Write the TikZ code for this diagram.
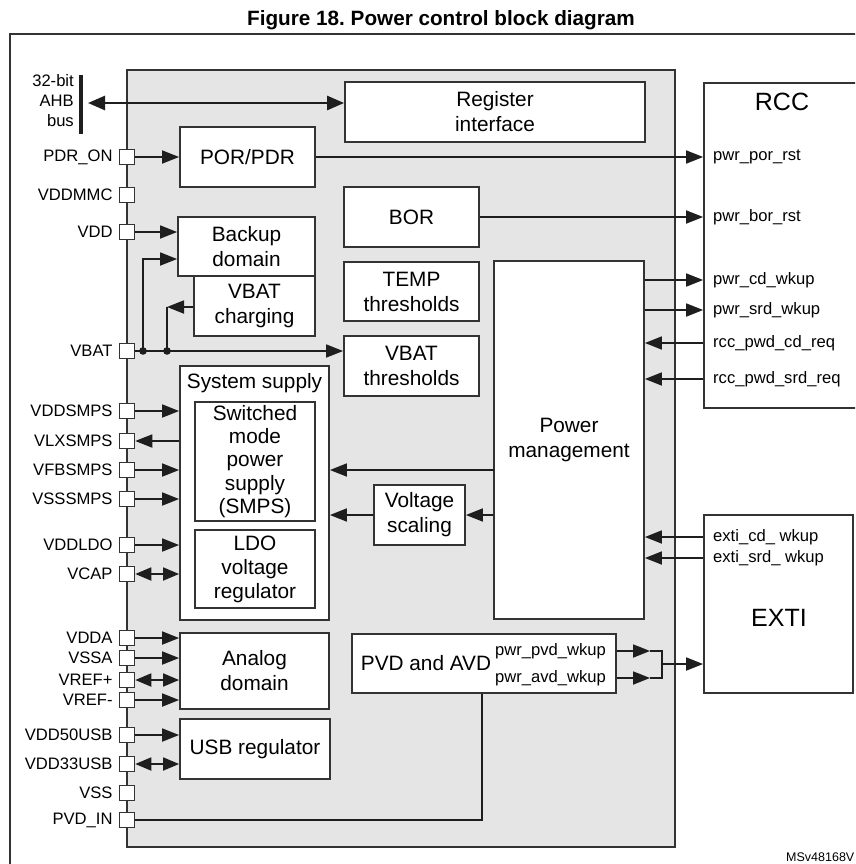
\documentclass[tikz,border=0pt]{standalone}
\usepackage{fontspec}
\setmainfont{Liberation Sans}
\usetikzlibrary{arrows.meta}
\definecolor{boxc}{HTML}{333333}
\definecolor{linec}{HTML}{1E1E1E}
\definecolor{greyc}{HTML}{E5E5E5}
\newcommand\fmain{\fontsize{20.8}{25}\selectfont}
\newcommand\fsmps{\fontsize{20.8}{23.2}\selectfont}
\newcommand\fsmall{\fontsize{16.6}{20}\selectfont}
\newcommand\fbig{\fontsize{25}{30}\selectfont}
\frenchspacing
\begin{document}
\begin{tikzpicture}[x=1pt,y=-1pt,
  label distance=6pt,
  box/.style={draw=boxc, line width=1.8pt, fill=white, inner sep=0pt, align=center, font=\fmain},
  pinbox/.style={draw=boxc, line width=1.5pt, fill=white, minimum size=15pt, inner sep=0pt},
  lab/.style={font=\fsmall, inner sep=0pt},
  conn/.style={draw=linec, line width=1.8pt},
  arr/.style={conn, -{Triangle[length=17pt,width=13pt]}},
  arrb/.style={conn, {Triangle[length=16pt,width=13pt]}-{Triangle[length=16pt,width=13pt]}},
]
\useasboundingbox (0,0) rectangle (855,864);
\clip (0,0) rectangle (855,864);
\fill[white] (0,0) rectangle (855,864);

% title and frame
\node[font=\fontsize{20.7}{24}\selectfont\bfseries, anchor=base, inner sep=0pt] (title) at (441,26) {Figure 18. Power control block diagram};
\draw[boxc, line width=1.5pt] (10,880) -- (10,34) -- (880,34);

% main grey block
\node[draw=boxc, line width=1.8pt, fill=greyc, minimum width=548pt, minimum height=777pt, inner sep=0pt] (core) at (401,458.5) {};

% boxes
\node[box, minimum width=300pt, minimum height=60pt] (reg) at (495,112) {Register\\interface};
\node[box, minimum width=135pt, minimum height=60pt] (por) at (247.5,157) {POR/PDR};
\node[box, minimum width=135pt, minimum height=60pt] (bor) at (411.5,217) {BOR};
\node[box, minimum width=121pt, minimum height=60pt] (charging) at (254.5,306) {VBAT\\charging};
\node[box, minimum width=137pt, minimum height=59pt] (backup) at (246.5,246.5) {Backup\\domain};
\node[box, minimum width=135pt, minimum height=59pt] (temp) at (411.5,291.5) {TEMP\\thresholds};
\node[box, minimum width=135pt, minimum height=60pt] (vbatth) at (411.5,366) {VBAT\\thresholds};
\node[box, minimum width=150pt, minimum height=358pt] (pm) at (569,440) {Power\\management};
\node[box, minimum width=149pt, minimum height=254pt] (sys) at (254.5,493) {};
\node[font=\fmain, inner sep=0pt] (syslab) at (254.5,383) {System supply};
\node[box, font=\fsmps, minimum width=120pt, minimum height=119pt] (smps) at (255,461.5) {Switched\\mode\\power\\supply\\(SMPS)};
\node[box, font=\fontsize{20.8}{24}\selectfont, minimum width=120pt, minimum height=78pt] (ldo) at (255,569) {LDO\\voltage\\regulator};
\node[box, minimum width=91pt, minimum height=60pt] (vs) at (419.5,515) {Voltage\\scaling};
\node[box, minimum width=149pt, minimum height=76pt] (analog) at (254.5,671) {Analog\\domain};
\node[box, minimum width=150pt, minimum height=60pt] (usb) at (255,749) {USB regulator};
\node[box, minimum width=264pt, minimum height=59pt] (pvd) at (484,663.5) {};
\node[font=\fmain, inner sep=0pt] (pvdlab) at (426,663) {PVD and AVD};
\node[lab, anchor=west] (pvdw) at (495,651) {pwr\_pvd\_wkup};
\node[lab, anchor=west] (avdw) at (495,678) {pwr\_avd\_wkup};

% RCC and EXTI
\node[box, minimum width=176pt, minimum height=325pt] (rcc) at (792,245.5) {};
\node[font=\fbig, inner sep=0pt] (rcclab) at (782,102) {RCC};
\node[lab, anchor=west] (rpor) at (713,157) {pwr\_por\_rst};
\node[lab, anchor=west] (rbor) at (713,217) {pwr\_bor\_rst};
\node[lab, anchor=west] (rcd) at (713,280) {pwr\_cd\_wkup};
\node[lab, anchor=west] (rsrd) at (713,310) {pwr\_srd\_wkup};
\node[lab, anchor=west] (rpcd) at (713,343) {rcc\_pwd\_cd\_req};
\node[lab, anchor=west] (rpsrd) at (713,379) {rcc\_pwd\_srd\_req};

\node[box, minimum width=149pt, minimum height=178pt] (exti) at (778.5,604) {};
\node[font=\fbig, inner sep=0pt] (extilab) at (779,618) {EXTI};
\node[lab, anchor=west] (ecd) at (713,537) {exti\_cd\_ wkup};
\node[lab, anchor=west] (esd) at (713,558) {exti\_srd\_ wkup};

% AHB bus
\coordinate (ahbtop) at (81,75);
\coordinate (ahbbot) at (81,134);
\draw[linec, line width=4pt] (ahbtop) -- (ahbbot);
\node[lab, anchor=east, align=right] (ahblab) at (74,101) {32-bit\\AHB\\bus};
\coordinate (ahb) at (88,103);
\draw[conn, line width=2.6pt, {Triangle[length=17pt,width=14pt]}-{Triangle[length=17pt,width=14pt]}] (ahb) -- (ahb -| reg.west);

% pins
\node[pinbox, label={[lab]left:PDR\_ON}] (p_pdr) at (127,157) {};
\node[pinbox, label={[lab]left:VDDMMC}] (p_vddmmc) at (127,195) {};
\node[pinbox, label={[lab]left:VDD}] (p_vdd) at (127,232) {};
\node[pinbox, label={[lab]left:VBAT}] (p_vbat) at (127,351) {};
\node[pinbox, label={[lab]left:VDDSMPS}] (p_vddsmps) at (127,411) {};
\node[pinbox, label={[lab]left:VLXSMPS}] (p_vlx) at (127,441) {};
\node[pinbox, label={[lab]left:VFBSMPS}] (p_vfb) at (127,470) {};
\node[pinbox, label={[lab]left:VSSSMPS}] (p_vsssmps) at (127,499) {};
\node[pinbox, label={[lab]left:VDDLDO}] (p_vddldo) at (127,545) {};
\node[pinbox, label={[lab]left:VCAP}] (p_vcap) at (127,574) {};
\node[pinbox, label={[lab]left:VDDA}] (p_vdda) at (127,638) {};
\node[pinbox, label={[lab]left:VSSA}] (p_vssa) at (127,658) {};
\node[pinbox, label={[lab]left:VREF+}] (p_vrefp) at (127,680) {};
\node[pinbox, label={[lab]left:VREF-}] (p_vrefm) at (127,700) {};
\node[pinbox, label={[lab]left:VDD50USB}] (p_usb50) at (127,735) {};
\node[pinbox, label={[lab]left:VDD33USB}] (p_usb33) at (127,764) {};
\node[pinbox, label={[lab]left:VSS}] (p_vss) at (127,793) {};
\node[pinbox, label={[lab]left:PVD\_IN}] (p_pvdin) at (127,820) {};

% pin connectors
\draw[arr] (p_pdr.east) -- (p_pdr.east -| por.west);
\draw[arr] (p_vdd.east) -- (p_vdd.east -| backup.west);
\draw[arr] (p_vddsmps.east) -- (p_vddsmps.east -| sys.west);
\draw[arr] (p_vlx.east -| sys.west) -- (p_vlx.east);
\draw[arr] (p_vfb.east) -- (p_vfb.east -| sys.west);
\draw[arr] (p_vsssmps.east) -- (p_vsssmps.east -| sys.west);
\draw[arr] (p_vddldo.east) -- (p_vddldo.east -| sys.west);
\draw[arrb] (p_vcap.east) -- (p_vcap.east -| sys.west);
\draw[arr] (p_vdda.east) -- (p_vdda.east -| analog.west);
\draw[arr] (p_vssa.east) -- (p_vssa.east -| analog.west);
\draw[arrb] (p_vrefp.east) -- (p_vrefp.east -| analog.west);
\draw[arr] (p_vrefm.east) -- (p_vrefm.east -| analog.west);
\draw[arr] (p_usb50.east) -- (p_usb50.east -| usb.west);
\draw[arrb] (p_usb33.east) -- (p_usb33.east -| usb.west);

% VBAT network
\coordinate (d1) at (143,351);
\coordinate (d2) at (167,351);
\coordinate (bkin) at (143,259);
\coordinate (chg) at (167,307);
\draw[arr] (p_vbat.east) -- (p_vbat.east -| vbatth.west);
\draw[arr] (d1) -- (bkin) -- (bkin -| backup.west);
\draw[arr] (chg -| charging.west) -- (chg);
\draw[conn] (chg) -- (d2);
\fill[linec] (d1) circle (3.8pt);
\fill[linec] (d2) circle (3.8pt);

% PVD_IN
\coordinate (pvdc) at (482,820);
\draw[conn] (p_pvdin.east) -- (pvdc) -- (pvdc |- pvd.south);

% to RCC
\draw[arr] (por.east) -- (por.east -| rcc.west);
\draw[arr] (bor.east) -- (bor.east -| rcc.west);
\draw[arr] (rcd.west -| pm.east) -- (rcd.west -| rcc.west);
\draw[arr] (rsrd.west -| pm.east) -- (rsrd.west -| rcc.west);
\draw[arr] (rpcd.west -| rcc.west) -- (rpcd.west -| pm.east);
\draw[arr] (rpsrd.west -| rcc.west) -- (rpsrd.west -| pm.east);

% from EXTI
\draw[arr] (ecd.west -| exti.west) -- (ecd.west -| pm.east);
\draw[arr] (esd.west -| exti.west) -- (esd.west -| pm.east);

% power management to system supply
\coordinate (pmsys) at (494,470);
\draw[arr] (pmsys) -- (pmsys -| sys.east);
\draw[arr] (pm.west |- vs.east) -- (vs.east);
\draw[arr] (vs.west) -- (vs.west -| sys.east);

% PVD to EXTI
\coordinate (t1) at (650,651);
\coordinate (t2) at (650,678);
\coordinate (j1) at (662,651);
\coordinate (j2) at (662,678);
\coordinate (jm) at (662,664);
\draw[arr] (t1 -| pvd.east) -- (t1);
\draw[arr] (t2 -| pvd.east) -- (t2);
\draw[conn] (t1) -- (j1) -- (j2) -- (t2);
\draw[arr] (jm) -- (jm -| exti.west);

% reference
\node[font=\fontsize{12.5}{14}\selectfont, anchor=west, inner sep=0pt] (ref) at (786,857) {MSv48168V};
\end{tikzpicture}
\end{document}
